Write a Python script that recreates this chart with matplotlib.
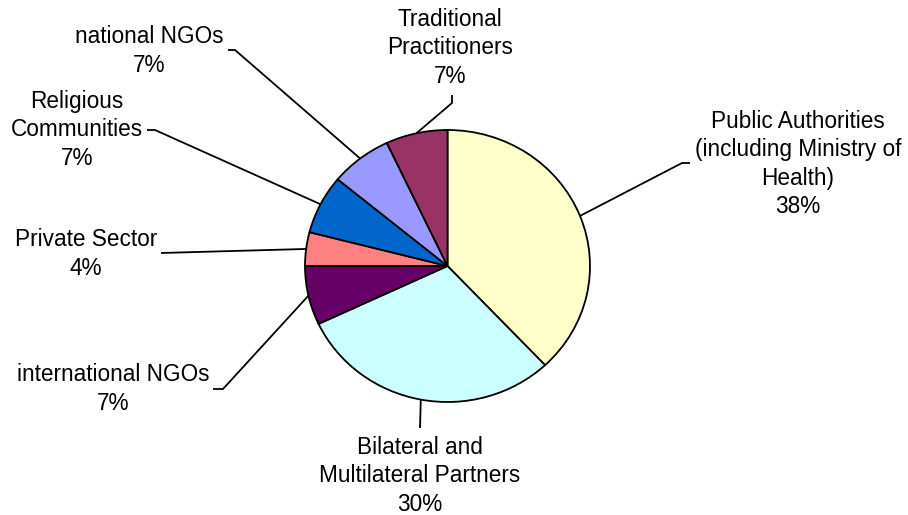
import numpy as np
import matplotlib
matplotlib.use("Agg")
import matplotlib.pyplot as plt

plt.rcParams['font.family'] = ['Liberation Sans', 'DejaVu Sans']

labels = ["Public Authorities\n(including Ministry of\nHealth)",
          "Bilateral and\nMultilateral Partners",
          "international NGOs",
          "Private Sector",
          "Religious\nCommunities",
          "national NGOs",
          "Traditional\nPractitioners"]
shares = [38, 30, 7, 4, 7, 7, 7]
colors = ["#FFFFCC", "#CCFFFF", "#660066", "#FF8080", "#0066CC", "#9999FF", "#993366"]

# label layout in pixels: text centre, leader elbow, leader end
text_pos = [(798, 164), (420, 476), (113, 389), (86, 254), (77, 130), (149, 51), (450, 48)]
elbows = [(682, 163), (420, 428), (223, 389), (161, 253), (155, 130), (235, 50), (452, 103)]
ends = [(690, 163), (420, 428), (213, 389), (161, 253), (147, 130), (228, 50), (452, 95)]

W, H = 908, 515
RX, RY = 142.5, 136.0  # pie is slightly elliptical in the original
CX, CY = 447.5, 266.0


def px(x, y):
    return x / RX, (H - y) / RY


fig = plt.figure(figsize=(W / 100, H / 100), dpi=100)
ax = fig.add_axes([0, 0, 1, 1])

wedges, _ = ax.pie(shares, colors=colors, startangle=90, counterclock=False,
                   center=px(CX, CY), radius=1,
                   wedgeprops=dict(edgecolor="black", linewidth=1.3))
ax.set_aspect("auto")
ax.set_xlim(0, W / RX)
ax.set_ylim(0, H / RY)
ax.axis("off")

cx, cy = px(CX, CY)
for w, lab, share, tp, el, en in zip(wedges, labels, shares, text_pos, elbows, ends):
    ang = np.deg2rad((w.theta1 + w.theta2) / 2)
    sx, sy = cx + np.cos(ang), cy + np.sin(ang)
    ex, ey = px(*el)
    nx_, ny_ = px(*en)
    ax.plot([sx, ex, nx_], [sy, ey, ny_], color="black", linewidth=1.3,
             solid_capstyle="butt")
    ax.text(*px(*tp), f"{lab}\n{share}%", ha="center", va="center",
            fontsize=16.3, linespacing=1.3)

fig.savefig("out.png", dpi=100)
